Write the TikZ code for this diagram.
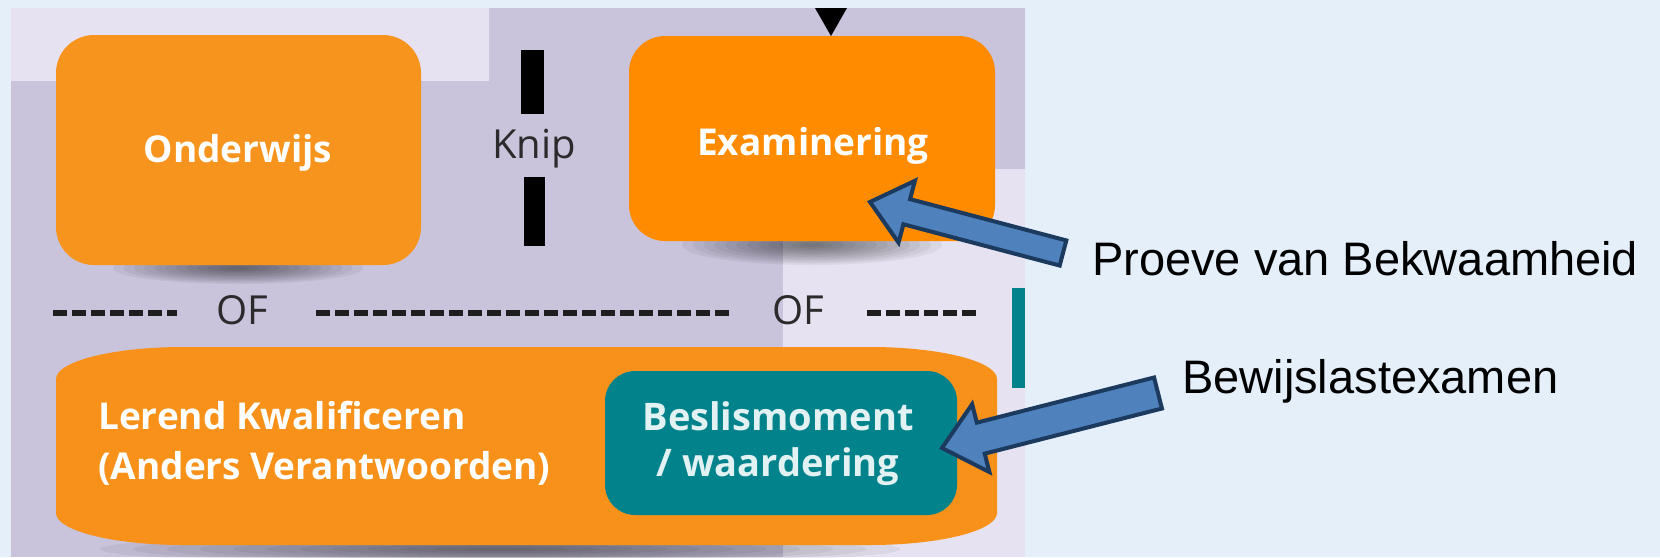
\documentclass[tikz,border=0pt]{standalone}
\usepackage{fontspec}
\setmainfont{Open Sans}
\newfontfamily\labfont{Liberation Sans}
\usetikzlibrary{calc}
\definecolor{bgblue}{HTML}{E4EFFA}
\definecolor{lav}{HTML}{CAC3DC}
\definecolor{lavlight}{HTML}{E7E2F1}
\definecolor{orangeA}{HTML}{F7941D}
\definecolor{orangeB}{HTML}{FF8C00}
\definecolor{orangeC}{HTML}{F8911A}
\definecolor{tealbox}{HTML}{02838C}
\definecolor{tealtxt}{HTML}{E2F2F2}
\definecolor{darktxt}{HTML}{2B2B2B}
\definecolor{dashcol}{HTML}{1E1E1E}
\definecolor{arrowfill}{HTML}{4F81BD}
\definecolor{arrowline}{HTML}{1C3A5E}
\tikzset{
  boxtxt/.style={text=white, font=\fontsize{37}{46}\selectfont\bfseries, inner sep=0pt},
  graytxt/.style={text=darktxt, font=\fontsize{40}{48}\selectfont, inner sep=0pt},
  labtxt/.style={text=black, font=\labfont\fontsize{47}{56}\selectfont, inner sep=0pt},
  dashline/.style={line width=6pt, draw=dashcol, dash pattern=on 14pt off 5pt},
  blockarrow/.style={fill=arrowfill, draw=arrowline, line width=4pt, line join=miter},
  shadowpart/.style={fill=black, opacity=0.05},
}
\newcommand{\blockarr}[5]{%
  \coordinate (#1h) at ($(#1)!#5!(#2)$);
  \draw[blockarrow] (#1) -- ($(#1h)!#4!90:(#2)$) -- ($(#1h)!#3!90:(#2)$)
    -- ($(#2)!#3!-90:(#1)$) -- ($(#2)!#3!90:(#1)$)
    -- ($(#1h)!#3!-90:(#2)$) -- ($(#1h)!#4!-90:(#2)$) -- cycle;
}
\begin{document}
\begin{tikzpicture}[x=1pt,y=-1pt]
\useasboundingbox (0,0) rectangle (1660,557);
\fill[bgblue] (0,0) rectangle (1660,557);
% screenshot background
\fill[lav] (11,8) rectangle (1025,557);
\fill[lavlight] (11,8) rectangle (489,81);
\fill[lavlight] (783,169) rectangle (1025,557);
% shadows
\foreach \k in {1,...,12} {
  \fill[shadowpart] (238,268) ellipse ({125*\k/12} and {16*\k/12});
  \fill[shadowpart] (812,245) ellipse ({130*\k/12} and {20*\k/12});
  \fill[shadowpart] (500,549) ellipse ({400*\k/12} and {16*\k/12});
}
% top boxes
\fill[orangeA, rounded corners=38pt] (56,35) rectangle (421,265);
\fill[orangeB, rounded corners=36pt] (629,36) rectangle (995,241);
\fill[black] (815,8) -- (847,8) -- (831,36) -- cycle;
% knip bars
\fill[black] (521,50) rectangle (544,114);
\fill[black] (524,177) rectangle (545,246);
\node[boxtxt, anchor=base] (onderwijs) at (238,162) {Onderwijs};
\node[boxtxt, anchor=base] (examinering) at (813,155) {Examinering};
\node[graytxt, anchor=base] (knip) at (534,158) {Knip};
% OF line
\node[graytxt, anchor=base] (of1) at (242,324) {OF};
\node[graytxt, anchor=base] (of2) at (798,324) {OF};
\draw[dashline] (53,313) -- (177,313);
\draw[dashline] (316,313) -- (730,313);
\draw[dashline] (867,313) -- (977,313);
% bottom big box
\fill[orangeC] (56,379) arc[start angle=180, end angle=270, x radius=127, y radius=32]
  -- (870,347) arc[start angle=270, end angle=360, x radius=127, y radius=32]
  -- (997,513) arc[start angle=0, end angle=90, x radius=127, y radius=32]
  -- (183,545) arc[start angle=90, end angle=180, x radius=127, y radius=32] -- cycle;
\fill[tealbox, rounded corners=30pt] (605,371) rectangle (957,515);
\node[boxtxt, font=\fontsize{37}{50}\selectfont\bfseries, align=left, anchor=north west] (lerend) at (98,401)
  {Lerend Kwalificeren\\(Anders Verantwoorden)};
\node[boxtxt, text=tealtxt, font=\fontsize{38}{46}\selectfont\bfseries, align=center, anchor=north] (beslis) at (778,401)
  {Beslismoment\\/ waardering};
\fill[tealbox] (1012,288) rectangle (1025,388);
% labels
\node[labtxt, anchor=base west] (proeve) at (1092,275) {Proeve van Bekwaamheid};
\node[labtxt, anchor=base west] (bewijs) at (1182,393) {Bewijslastexamen};
% arrows
\coordinate (a1tip) at (870,202);
\coordinate (a1tail) at (1063,253);
\blockarr{a1tip}{a1tail}{13pt}{32pt}{38pt}
\coordinate (a2tip) at (942,448);
\coordinate (a2tail) at (1158,393);
\blockarr{a2tip}{a2tail}{16pt}{35pt}{40pt}
\end{tikzpicture}
\end{document}
